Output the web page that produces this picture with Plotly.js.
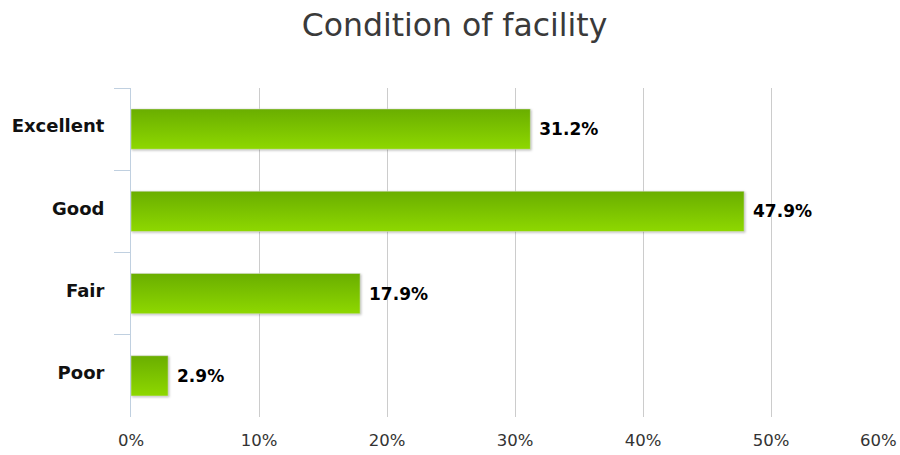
<!DOCTYPE html>
<html>
<head>
<meta charset="utf-8">
<script src="https://cdn.plot.ly/plotly-3.0.1.min.js"></script>
<style>
html,body{margin:0;padding:0;background:#fff;}
#chart{width:900px;height:455px;}
</style>
</head>
<body>
<div id="chart"></div>
<script>
const categories = ["Excellent", "Good", "Fair", "Poor"];
const values = [31.2, 47.9, 17.9, 2.9];
const tickValues = [0, 10, 20, 30, 40, 50];
const tickLabels = ["0%", "10%", "20%", "30%", "40%", "50%"];
const lastTickValue = 60;
const lastTickLabel = "60%";
const titleText = "Condition of facility";

const font = "DejaVu Sans, Verdana, sans-serif";

const trace = {
  type: "bar",
  orientation: "h",
  x: values,
  y: categories,
  text: values.map(v => "\u00a0" + v.toFixed(1) + "%"),
  textposition: "outside",
  textfont: {family: font, size: 17, color: "#000", weight: "bold"},
  cliponaxis: false,
  marker: {color: "#7CC300", line: {color: "#e0e0e0", width: 0.5}},
  hoverinfo: "none"
};

const layout = {
  width: 900,
  height: 455,
  margin: {l: 131, r: 1, t: 88, b: 38},
  paper_bgcolor: "#fff",
  plot_bgcolor: "#fff",
  showlegend: false,
  bargap: 0.51,
  title: {
    text: titleText,
    font: {family: font, size: 31.5, color: "#3a3a3a"},
    x: 0.505, xref: "container", xanchor: "center",
    y: 0.946, yref: "container", yanchor: "middle"
  },
  xaxis: {
    range: [0, lastTickValue],
    tickvals: tickValues,
    ticktext: tickLabels,
    showgrid: true,
    gridcolor: "#cccccc",
    gridwidth: 1,
    zeroline: false,
    showline: false,
    ticks: "",
    ticklabelstandoff: 11,
    tickfont: {family: font, size: 16.5, color: "#333"},
    fixedrange: true
  },
  yaxis: {
    type: "category",
    categoryorder: "array",
    categoryarray: categories,
    autorange: "reversed",
    showline: true,
    linecolor: "#c0d0e0",
    linewidth: 1,
    ticks: "outside",
    tickson: "boundaries",
    ticklen: 16,
    tickcolor: "#c0d0e0",
    tickwidth: 1,
    ticklabelstandoff: 22,
    ticklabelshift: 3,
    showgrid: false,
    zeroline: false,
    tickfont: {family: font, size: 18, color: "#111", weight: "bold"},
    fixedrange: true
  },
  annotations: [{
    x: lastTickValue, xref: "x",
    y: 0, yref: "paper",
    yshift: -23,
    text: lastTickLabel,
    showarrow: false,
    xanchor: "right",
    yanchor: "middle",
    font: {family: font, size: 16.5, color: "#333"}
  }]
};

Plotly.newPlot("chart", [trace], layout, {displayModeBar: false, staticPlot: true}).then(gd => {
  const svg = gd.querySelector("svg.main-svg");
  const ns = "http://www.w3.org/2000/svg";
  let defs = svg.querySelector("defs");
  if (!defs) { defs = document.createElementNS(ns, "defs"); svg.insertBefore(defs, svg.firstChild); }
  const grad = document.createElementNS(ns, "linearGradient");
  grad.setAttribute("id", "barGrad");
  grad.setAttribute("x1", "0"); grad.setAttribute("y1", "0");
  grad.setAttribute("x2", "0"); grad.setAttribute("y2", "1");
  [["0%", "#6aae00"], ["100%", "#8ed800"]].forEach(([o, c]) => {
    const s = document.createElementNS(ns, "stop");
    s.setAttribute("offset", o); s.setAttribute("stop-color", c);
    grad.appendChild(s);
  });
  defs.appendChild(grad);
  gd.querySelectorAll(".point path").forEach(p => {
    p.style.fill = "url(#barGrad)";
    p.style.filter = "drop-shadow(1.5px 1.5px 1px rgba(0,0,0,0.25))";
  });
});
</script>
</body>
</html>
